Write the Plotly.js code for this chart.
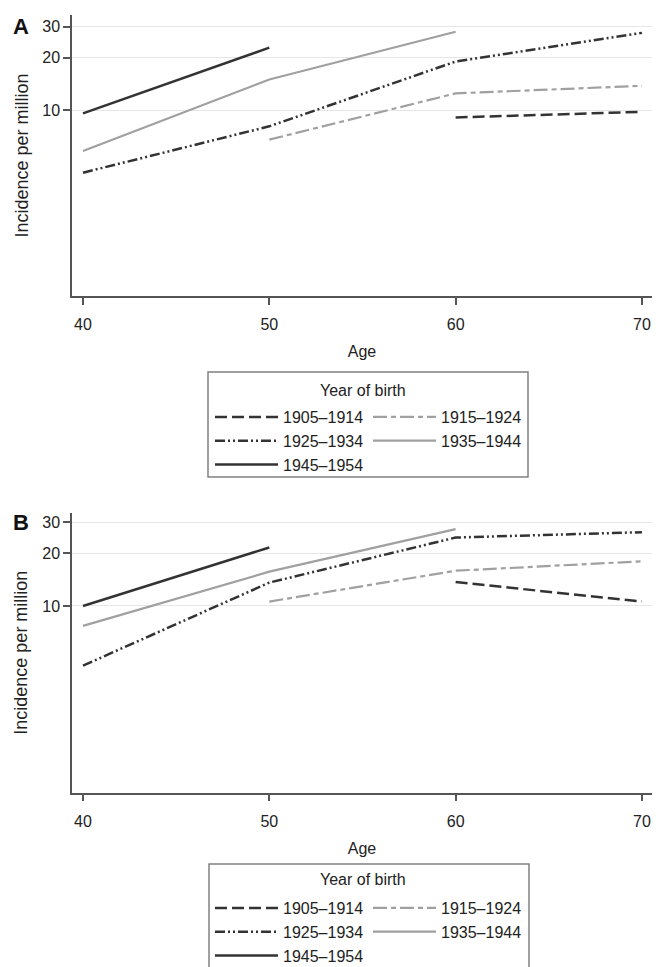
<!DOCTYPE html>
<html>
<head>
<meta charset="utf-8">
<script src="https://cdn.plot.ly/plotly-3.0.1.min.js"></script>
<style>html,body{margin:0;padding:0;background:#fff;}#chart{width:656px;height:967px;}</style>
</head>
<body>
<div id="chart"></div>
<script>
// ---- data ----
const ages = [40, 50, 60, 70];
const cohorts = ["1905–1914", "1915–1924", "1925–1934", "1935–1944", "1945–1954"];
// Panel A
const a1905 = [null, null, 9.1, 9.8];
const a1915 = [null, 6.8, 12.5, 13.8];
const a1925 = [4.4, 8.1, 19.0, 27.7];
const a1935 = [5.85, 15.0, 28.1, null];
const a1945 = [9.6, 22.8, null, null];
// Panel B
const b1905 = [null, null, 13.7, 10.6];
const b1915 = [null, 10.6, 15.9, 18.0];
const b1925 = [4.56, 13.6, 24.6, 26.4];
const b1935 = [7.7, 15.7, 27.5, null];
const b1945 = [10.0, 21.6, null, null];
const yTicks = [10, 20, 30];
const xTicks = [40, 50, 60, 70];

// ---- styles ----
const W = 656, H = 967, L = 72, R = 4;
const styles = [
  {color: "#333333", width: 2.5, dash: "12px,5px", col: 0},
  {color: "#a0a0a0", width: 2.2, dash: "14px,4px,5px,4px", col: 1},
  {color: "#333333", width: 2.5, dash: "10px,3px,2px,3px,2px,3px", col: 0},
  {color: "#a0a0a0", width: 2.2, dash: "solid", col: 1},
  {color: "#333333", width: 2.5, dash: "solid", col: 0}
];
const seriesA = [a1905, a1915, a1925, a1935, a1945];
const seriesB = [b1905, b1915, b1925, b1935, b1945];

const traces = [];
function addPanel(series, xa, ya, legs) {
  series.forEach((vals, i) => {
    const s = styles[i];
    traces.push({
      x: ages, y: vals, type: "scatter", mode: "lines", name: cohorts[i],
      xaxis: xa, yaxis: ya, legend: legs[s.col],
      line: {color: s.color, width: s.width, dash: s.dash},
      hoverinfo: "x+y+name"
    });
  });
}
addPanel(seriesA, "x", "y", ["legend", "legend2"]);
addPanel(seriesB, "x2", "y2", ["legend3", "legend4"]);

const px = v => (v - L) / (W - L - R);
const py = v => 1 - v / H;
const font = {family: "Liberation Sans, Arial, sans-serif", size: 16, color: "#222"};

function xAxis(anchor) {
  return {
    anchor: anchor, domain: [0, 1], range: [39.41, 70.54],
    tickvals: xTicks, ticks: "outside", ticklen: 7, tickwidth: 1.5, tickcolor: "#555",
    showline: true, linecolor: "#555", linewidth: 1.5, showgrid: false, zeroline: false,
    tickfont: font, automargin: false, ticklabelstandoff: 6,
    title: {text: "Age", font: font, standoff: 14}
  };
}
function yAxis(anchor, dom, rng) {
  return {
    anchor: anchor, domain: dom, type: "log", range: rng,
    tickvals: yTicks, ticktext: yTicks.map(String), ticks: "outside", ticklen: 7, tickwidth: 1.5, tickcolor: "#555",
    showline: true, linecolor: "#555", linewidth: 1.5, showgrid: true, gridcolor: "#e6e6e6", gridwidth: 1,
    zeroline: false, tickfont: font, automargin: false
  };
}
function leg(xPix, topPix) {
  return {
    xref: "container", yref: "container", x: xPix / W, y: 1 - topPix / H,
    xanchor: "left", yanchor: "top", orientation: "v", bgcolor: "rgba(0,0,0,0)",
    borderwidth: 0, font: font, itemwidth: 63, tracegroupgap: 0, itemclick: false, itemdoubleclick: false
  };
}
function ann(text, x, y, f, angle) {
  return {text: text, xref: "paper", yref: "paper", x: px(x), y: py(y), showarrow: false,
          xanchor: "center", yanchor: "middle", font: f, textangle: angle || 0};
}
const boldFont = {family: font.family, size: 22, color: "#111"};
const yTitleFont = {family: font.family, size: 18, color: "#222"};

const layout = {
  width: W, height: H, margin: {l: L, r: R, t: 0, b: 0, autoexpand: false},
  paper_bgcolor: "#fff", plot_bgcolor: "#fff", showlegend: true,
  xaxis: xAxis("y"),
  yaxis: yAxis("x", [py(296), py(15)], [-0.061, 1.5446]),
  xaxis2: xAxis("y2"),
  yaxis2: yAxis("x2", [py(792.7), py(512.7)], [-0.067, 1.533]),
  legend: leg(210, 400),
  legend2: leg(368, 400),
  legend3: leg(210, 891),
  legend4: leg(368, 891),
  shapes: [
    {type: "rect", xref: "paper", yref: "paper", x0: px(208), x1: px(528), y0: py(477), y1: py(372),
     line: {color: "#808080", width: 1.5}, fillcolor: "rgba(0,0,0,0)"},
    {type: "rect", xref: "paper", yref: "paper", x0: px(209), x1: px(529), y0: py(990), y1: py(864),
     line: {color: "#808080", width: 1.5}, fillcolor: "rgba(0,0,0,0)"}
  ],
  annotations: [
    ann("Year of birth", 363, 390, font),
    ann("Year of birth", 363, 879, font),
    ann("<b>A</b>", 21, 26, boldFont),
    ann("<b>B</b>", 21, 522, boldFont),
    ann("Incidence per million", 21, 155.5, yTitleFont, -90),
    ann("Incidence per million", 21, 652.7, yTitleFont, -90)
  ]
};

Plotly.newPlot("chart", traces, layout, {displayModeBar: false});
</script>
</body>
</html>
